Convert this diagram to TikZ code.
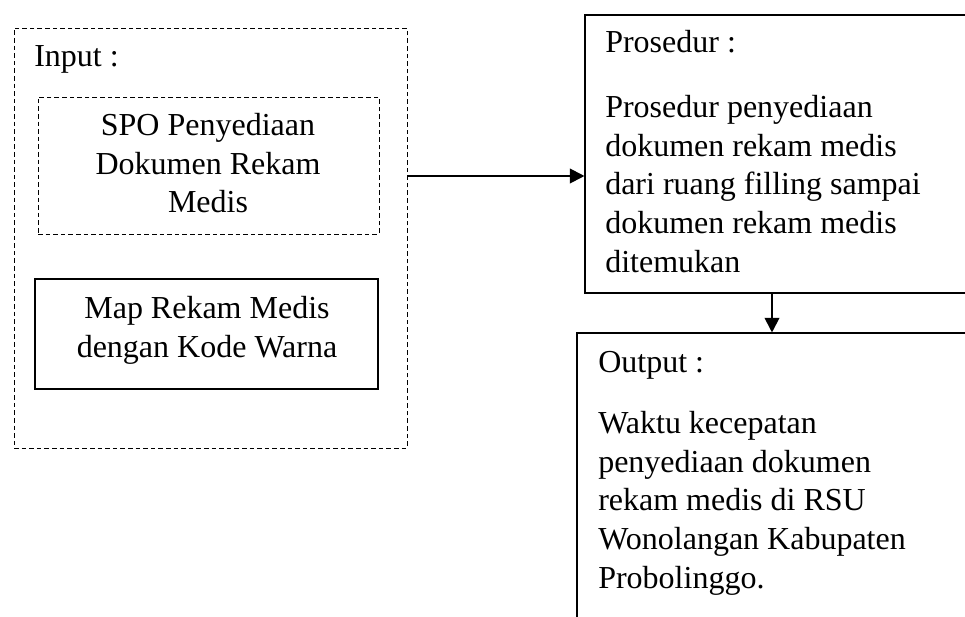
\documentclass[tikz,border=0pt]{standalone}
\usepackage{fontspec}
\setmainfont{Liberation Serif}
\usetikzlibrary{arrows.meta,fit}
\begin{document}
\begin{tikzpicture}[
  x=0.75pt, y=-0.75pt,
  dashbox/.style={draw, line width=0.7pt, dash pattern=on 3.5pt off 2.2pt, inner sep=0pt},
  solidbox/.style={draw, line width=0.8pt, inner sep=0pt},
  txt/.style={inner sep=0pt, font=\fontsize{24}{28.9}\selectfont},
  arr/.style={line width=1.5pt, -{Triangle[length=11pt,width=11pt]}}
]
\path[use as bounding box, clip] (0,0) rectangle (965,617);
% left side
\node (input) [dashbox, fit={(14,28) (407,448)}] {};
\node (spo) [dashbox, fit={(38,97) (379,234)}] {};
\node (map) [solidbox, fit={(35,279) (378,389)}] {};
\node (input-lbl) [txt, anchor=base west] at (34,67) {Input :};
% base = last line of the text
\node (spo-txt) [txt, align=center, anchor=base] at (208,213) {SPO Penyediaan\\Dokumen Rekam\\Medis};
\node (map-txt) [txt, align=center, anchor=base] at (207,357) {Map Rekam Medis\\dengan Kode Warna};
% right side
\node (prosedur) [solidbox, fit={(585,15) (985,293)}] {};
\node (output) [solidbox, fit={(577,333) (985,640)}] {};
\node (pros-lbl) [txt, anchor=base west] at (605,53) {Prosedur :};
\node (pros-txt) [txt, align=left, anchor=base west] at (605,272)
  {Prosedur penyediaan\\dokumen rekam medis\\dari ruang filling sampai\\dokumen rekam medis\\ditemukan};
\node (out-lbl) [txt, anchor=base west] at (598,372) {Output :};
\node (out-txt) [txt, align=left, anchor=base west] at (598,588)
  {Waktu kecepatan\\penyediaan dokumen\\rekam medis di RSU\\Wonolangan Kabupaten\\Probolinggo.};
% arrows
\draw[arr] (input.east |- 0,176) -- (prosedur.west |- 0,176);
\draw[arr] (prosedur.south -| 772,0) -- (output.north -| 772,0);
\end{tikzpicture}
\end{document}
